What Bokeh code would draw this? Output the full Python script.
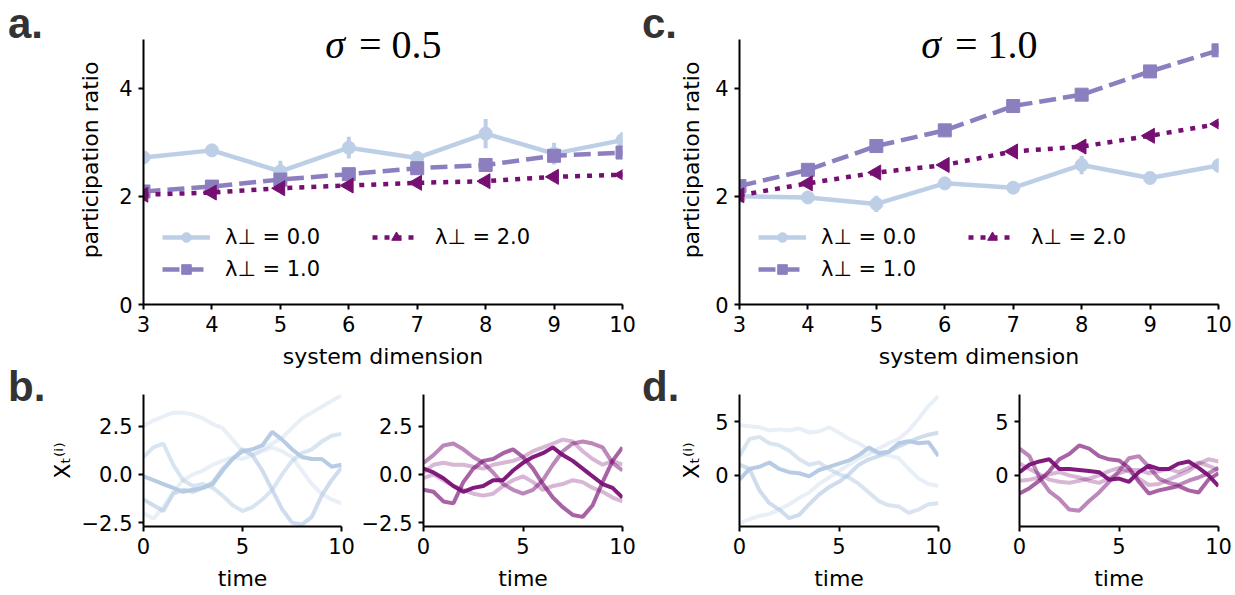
from bokeh.plotting import figure
from bokeh.layouts import row, column
from bokeh.models import Range1d, FixedTicker, Label, Legend, LegendItem, Div
from bokeh.embed import file_html
from bokeh.resources import INLINE
import math

# ---------------- data: participation ratio ----------------
dims = [3, 4, 5, 6, 7, 8, 9, 10]

# sigma = 0.5
pr05_l0 = [2.72, 2.85, 2.46, 2.90, 2.71, 3.16, 2.79, 3.04]
er05_l0 = [0.10, 0.10, 0.20, 0.20, 0.12, 0.27, 0.20, 0.15]
pr05_l1 = [2.09, 2.18, 2.31, 2.41, 2.52, 2.58, 2.75, 2.81]
er05_l1 = [0.04, 0.04, 0.05, 0.05, 0.05, 0.05, 0.06, 0.06]
pr05_l2 = [2.03, 2.07, 2.15, 2.20, 2.25, 2.28, 2.36, 2.40]
er05_l2 = [0.03, 0.03, 0.03, 0.04, 0.04, 0.04, 0.04, 0.04]

# sigma = 1.0
pr10_l0 = [2.00, 1.98, 1.86, 2.24, 2.16, 2.58, 2.34, 2.57]
er10_l0 = [0.07, 0.06, 0.15, 0.10, 0.07, 0.17, 0.10, 0.13]
pr10_l1 = [2.19, 2.49, 2.93, 3.22, 3.67, 3.88, 4.31, 4.70]
er10_l1 = [0.04, 0.05, 0.05, 0.05, 0.06, 0.06, 0.06, 0.07]
pr10_l2 = [2.02, 2.24, 2.44, 2.58, 2.83, 2.92, 3.12, 3.34]
er10_l2 = [0.03, 0.04, 0.04, 0.04, 0.04, 0.05, 0.05, 0.05]

legend_labels = ["λ⊥ = 0.0", "λ⊥ = 1.0", "λ⊥ = 2.0"]
titles = ["= 0.5", "= 1.0"]
panel_letters = ["a.", "b.", "c.", "d."]

# ---------------- data: example trajectories ----------------
time = [0.0, 0.5, 1.0, 1.5, 2.0, 2.5, 3.0, 3.5, 4.0, 4.5, 5.0,
        5.5, 6.0, 6.5, 7.0, 7.5, 8.0, 8.5, 9.0, 9.5, 10.0]

# b, left (sigma 0.5, lambda 0)
b1_t1 = [2.5, 2.8, 3.0, 3.2, 3.2, 3.1, 2.9, 2.6, 2.4, 1.8, 1.2, 1.0, 1.2, 1.4, 1.2, 0.9, 0.2, -0.5, -1.0, -1.3, -1.5]
b1_t2 = [-2.0, -2.3, -1.7, -0.9, -0.3, 0.0, 0.2, 0.5, 0.7, 0.9, 0.8, 1.0, 1.3, 1.6, 1.9, 2.4, 2.9, 3.2, 3.5, 3.8, 4.1]
b1_t3 = [0.9, 1.4, 1.6, 0.5, -0.3, -0.6, -0.5, -0.7, -1.1, -1.6, -1.9, -1.7, -1.3, -0.8, 0.0, 0.7, 1.1, 1.3, 1.7, 2.0, 2.1]
b1_t4 = [-1.3, -1.6, -1.9, -1.0, -0.8, -0.9, -0.7, -0.4, 0.3, 0.8, 1.3, 1.0, 0.2, -0.8, -1.8, -2.5, -2.6, -2.2, -1.1, -0.3, 0.35]
b1_t5 = [-0.1, -0.3, -0.5, -0.7, -0.9, -0.8, -0.7, -0.5, 0.2, 0.8, 1.2, 1.3, 1.5, 2.2, 1.8, 1.3, 0.9, 0.8, 0.8, 0.4, 0.5]

# b, right (sigma 0.5, lambda 2)
b2_t1 = [0.1, 0.5, 0.6, 0.5, 0.5, 0.4, 0.3, 0.5, 0.6, 0.7, 0.9, 1.2, 1.4, 1.6, 1.8, 1.7, 1.2, 0.8, 0.5, 0.7, 0.5]
b2_t2 = [-0.2, 0.0, -0.3, -0.6, -0.8, -1.0, -1.1, -1.0, -0.6, -0.3, -0.1, -0.4, -0.8, -0.6, -0.5, -0.3, -0.4, -0.7, -0.9, -1.2, -1.4]
b2_t3 = [0.6, 1.0, 1.5, 1.6, 1.3, 0.9, 0.6, 0.1, -0.5, -0.8, -1.0, -0.8, -0.3, 0.5, 1.2, 1.6, 1.7, 1.6, 1.4, 0.6, 0.2]
b2_t4 = [-0.8, -0.9, -1.4, -1.5, -0.4, 0.3, 0.7, 0.8, 1.1, 1.3, 0.9, 0.3, -0.5, -1.2, -1.7, -2.1, -2.2, -1.6, -0.4, 0.7, 1.4]
b2_t5 = [0.3, 0.1, -0.2, -0.6, -0.9, -0.7, -0.6, -0.3, -0.3, 0.2, 0.6, 0.9, 1.1, 1.4, 1.0, 0.7, 0.3, -0.1, -0.5, -0.7, -1.2]

# d, left (sigma 1.0, lambda 0)
d1_t1 = [4.7, 4.6, 4.5, 4.2, 4.3, 4.2, 4.4, 4.0, 4.1, 4.5, 4.0, 3.4, 3.0, 2.4, 2.0, 1.9, 1.6, 0.6, -0.3, -0.8, -1.0]
d1_t2 = [-4.5, -4.1, -3.8, -3.6, -3.2, -2.7, -2.1, -1.6, -0.8, -0.2, 0.4, 1.0, 1.6, 2.0, 2.5, 3.0, 3.4, 4.2, 5.3, 6.5, 7.4]
d1_t3 = [1.8, 3.4, 3.6, 3.0, 2.8, 2.3, 1.5, 1.0, 1.2, 0.6, 0.1, -0.2, -0.8, -1.6, -2.4, -2.8, -2.9, -3.5, -3.2, -2.7, -2.6]
d1_t4 = [1.0, 0.6, -1.4, -2.6, -3.2, -4.0, -3.7, -2.7, -1.8, -1.1, -0.6, 0.1, 1.0, 1.5, 1.8, 2.2, 2.7, 3.1, 3.5, 3.8, 4.0]
d1_t5 = [-0.4, 0.6, 0.8, 1.2, 0.6, 0.3, 0.2, -0.1, 0.5, 0.8, 1.1, 1.4, 1.9, 2.6, 2.1, 2.2, 3.0, 3.2, 3.0, 3.1, 1.8]

# d, right (sigma 1.0, lambda 2)
d2_t1 = [1.1, 0.6, 0.1, -0.4, -0.6, -0.7, -0.5, -0.3, 0.0, 0.4, 0.7, 0.4, -0.3, -0.9, -0.8, -0.4, 0.0, 0.4, 1.1, 1.5, 1.3]
d2_t2 = [-0.5, -0.4, -0.2, 0.1, 0.3, 0.0, -0.2, -0.5, -0.7, -0.3, 0.2, 0.5, 0.5, 0.2, 0.4, 0.6, 0.3, 0.7, 1.2, 0.9, 0.5]
d2_t3 = [2.5, 1.8, -0.2, -1.5, -2.2, -3.2, -3.3, -2.4, -1.6, -0.6, 0.4, 1.6, 1.8, 0.8, -0.3, -0.7, -0.9, -0.5, -0.2, 0.2, 0.7]
d2_t4 = [-1.7, -1.2, -0.5, 0.4, 1.5, 2.0, 2.8, 2.5, 1.8, 1.5, 1.4, 0.7, -0.6, -1.7, -1.4, -1.2, -1.0, -1.4, -1.6, -0.4, 0.2]
d2_t5 = [0.3, 1.0, 1.3, 1.5, 0.6, 0.6, 0.5, 0.4, 0.3, -0.4, -0.3, -0.6, 0.3, 0.9, 0.6, 0.6, 1.1, 1.3, 0.7, 0.0, -1.0]

trace_alphas = [0.3, 0.3, 0.5, 0.65, 0.95]

# ---------------- styling ----------------
C0 = "#bccfe6"
C1 = "#8c7fbf"
C2 = "#760f72"
CBLUE = "#b3c9e3"
CPURP = "#7a0f75"
LETTER = "#333333"
TICK = "21px"
AXL = "22px"


def style(p, label_standoff):
    p.outline_line_color = None
    p.grid.visible = False
    p.background_fill_color = "white"
    p.border_fill_color = "white"
    for ax in (p.xaxis[0], p.yaxis[0]):
        ax.axis_line_width = 2
        ax.axis_line_color = "black"
        ax.major_tick_line_width = 2
        ax.major_tick_line_color = "black"
        ax.major_tick_out = 5
        ax.major_tick_in = 0
        ax.minor_tick_line_color = None
        ax.major_label_text_font = "DejaVu Sans"
        ax.major_label_text_font_size = TICK
        ax.major_label_text_color = "black"
        ax.axis_label_text_font = "DejaVu Sans"
        ax.axis_label_text_font_size = AXL
        ax.axis_label_text_font_style = "normal"
        ax.axis_label_text_color = "black"
        ax.major_label_standoff = 6
        ax.axis_label_standoff = 9
    p.yaxis[0].axis_label_standoff = label_standoff


def make_fig(width, height, bl, br, bt, bb, xr, yr, ylab_standoff=9):
    p = figure(width=width, height=height, title=None,
               x_range=Range1d(*xr), y_range=Range1d(*yr),
               output_backend="svg", toolbar_location=None,
               min_border_left=bl, min_border_right=br,
               min_border_top=bt, min_border_bottom=bb)
    style(p, ylab_standoff)
    return p


def top_panel(width, bl, br, l0, e0, l1, e1, l2, e2, title, ylab_standoff):
    # frame top at 15 px; the axis itself stops at 4.9 (px 39)
    p = make_fig(width, 375, bl, br, 15, 71, (3, 10), (0, 5.344), ylab_standoff)
    p.yaxis.bounds = (0, 4.9)
    p.xaxis.ticker = FixedTicker(ticks=dims)
    p.yaxis.ticker = FixedTicker(ticks=[0, 2, 4])
    p.xaxis.axis_label = "system dimension"
    p.yaxis.axis_label = "participation ratio"

    rs = []
    specs = [(l0, e0, C0, "solid", "circle", 13, 0.0),
             (l1, e1, C1, "17 7", "square", 13, 0.0),
             (l2, e2, C2, "5 7", "triangle", 15, math.pi / 2)]
    for vals, errs, col, dash, mk, sz, ang in specs:
        lo = [v - e for v, e in zip(vals, errs)]
        hi = [v + e for v, e in zip(vals, errs)]
        p.segment(x0=dims, y0=lo, x1=dims, y1=hi, line_color=col, line_width=4)
        lr = p.line(dims, vals, line_color=col, line_width=4.5, line_dash=dash)
        sr = p.scatter(dims, vals, marker=mk, size=sz, angle=ang,
                       fill_color=col, line_color=col)
        rs.append((lr, sr))

    common = dict(glyph_width=48, glyph_height=24, label_height=24,
                  label_standoff=15, spacing=8, padding=0, margin=0,
                  border_line_color=None, background_fill_alpha=0,
                  label_text_font="DejaVu Sans", label_text_font_size="21px",
                  label_text_color="black")
    leg1 = Legend(items=[LegendItem(label=legend_labels[0], renderers=list(rs[0])),
                         LegendItem(label=legend_labels[1], renderers=list(rs[1]))],
                  location=(19, 23), **common)
    leg2 = Legend(items=[LegendItem(label=legend_labels[2], renderers=list(rs[2]))],
                  location=(229, 55), **common)
    p.add_layout(leg1)
    p.add_layout(leg2)

    p.add_layout(Label(x=6.5, y=4.9, text="σ", x_offset=-38, y_offset=-5,
                       text_font="Liberation Serif", text_font_style="italic",
                       text_font_size="40px", text_color="black",
                       text_align="right", text_baseline="middle"))
    p.add_layout(Label(x=6.5, y=4.9, text=title, x_offset=-24, y_offset=-5,
                       text_font="Liberation Serif", text_font_size="40px",
                       text_color="black",
                       text_align="left", text_baseline="middle"))
    return p


def bottom_panel(width, bl, br, yr, yticks, overrides, traces, color, ylabel, ylab_standoff=9):
    p = make_fig(width, 220, bl, br, 19, 69, (0, 10), yr, ylab_standoff)
    p.xaxis.ticker = FixedTicker(ticks=[0, 5, 10])
    p.yaxis.ticker = FixedTicker(ticks=yticks)
    if overrides:
        p.yaxis.major_label_overrides = overrides
    p.xaxis.axis_label = "time"
    if ylabel:
        p.yaxis.axis_label = ylabel
    for vals, a in zip(traces, trace_alphas):
        p.line(time, vals, line_color=color, line_alpha=a, line_width=4)
    return p


def letter_div(width, top_letter, bottom_letter, left):
    css = ("position:absolute; left:%dpx; top:%dpx; line-height:40px; margin:0; padding:0; "
           "font-family:'Liberation Sans'; font-weight:bold; font-size:42px; color:%s;")
    html = ('<div style="position:relative; width:%dpx; height:595px; margin:0; padding:0;">' % width
            + '<div style="' + css % (left, 4, LETTER) + '">' + top_letter + '</div>'
            + '<div style="' + css % (left, 367, LETTER) + '">' + bottom_letter + '</div>'
            + '</div>')
    return Div(text=html, width=width, height=595, margin=0)


fa = top_panel(595, 98, 18, pr05_l0, er05_l0, pr05_l1, er05_l1, pr05_l2, er05_l2, titles[0], 13)
fc = top_panel(559, 62, 17, pr10_l0, er10_l0, pr10_l1, er10_l1, pr10_l2, er10_l2, titles[1], 8)

b_over = {-2.5: "−2.5", 0: "0.0", 2.5: "2.5"}
ylab = "Xₜ⁽ⁱ⁾"
fb1 = bottom_panel(311, 98, 15, (-2.7, 4.14), [-2.5, 0, 2.5], b_over,
                   [b1_t1, b1_t2, b1_t3, b1_t4, b1_t5], CBLUE, ylab, 4)
fb2 = bottom_panel(284, 67, 18, (-2.7, 4.14), [-2.5, 0, 2.5], b_over,
                   [b2_t1, b2_t2, b2_t3, b2_t4, b2_t5], CPURP, None)
fd1 = bottom_panel(302, 63, 40, (-4.78, 7.56), [0, 5], None,
                   [d1_t1, d1_t2, d1_t3, d1_t4, d1_t5], CBLUE, ylab, 8)
fd2 = bottom_panel(257, 41, 17, (-4.78, 7.56), [0, 5], None,
                   [d2_t1, d2_t2, d2_t3, d2_t4, d2_t5], CPURP, None)

left_div = letter_div(45, panel_letters[0], panel_letters[1], 8)
mid_div = letter_div(36, panel_letters[2], panel_letters[3], 2)

layout = row(left_div,
             column(fa, row(fb1, fb2, spacing=0), spacing=0),
             mid_div,
             column(fc, row(fd1, fd2, spacing=0), spacing=0),
             spacing=0)

open("out.html", "w").write(file_html(layout, INLINE))
